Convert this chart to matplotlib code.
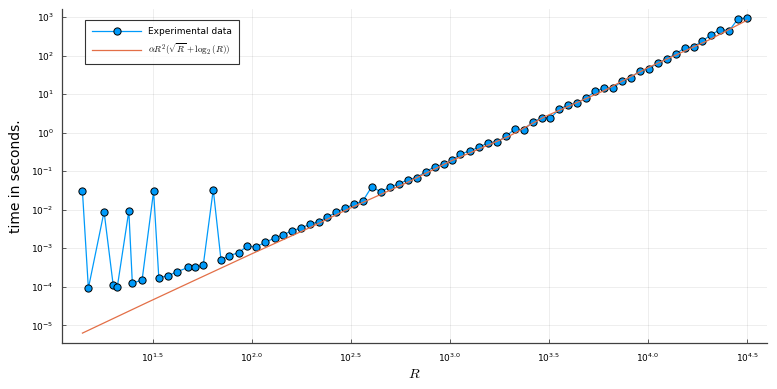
"""Runtime vs R on log-log axes, Plots.jl (GR) look."""

import matplotlib

matplotlib.use("Agg")
import matplotlib.pyplot as plt

# measured problem sizes and timings (seconds)
R_VALUES = [
    14, 15, 18, 20, 21, 24, 25, 28, 32, 34,
    38, 42, 48, 52, 57, 64, 70, 77, 86, 95,
    105, 117, 131, 144, 160, 177, 196, 218, 240, 268,
    297, 330, 364, 404, 448, 499, 554, 614, 682, 755,
    838, 930, 1027, 1132, 1268, 1407, 1562, 1734, 1925, 2127,
    2362, 2620, 2909, 3219, 3575, 3966, 4402, 4868, 5403, 6000,
    6664, 7400, 8210, 9120, 10120, 11180, 12410, 13780, 15290, 16970,
    18780, 20860, 23160, 25720, 28530, 31620,
]
TIMES = [
    3.0e-2, 9.2e-5, 8.9e-3, 1.14e-4, 1.01e-4, 9.3e-3, 1.24e-4, 1.51e-4, 3.0e-2, 1.73e-4,
    1.95e-4, 2.47e-4, 3.2e-4, 3.18e-4, 3.69e-4, 3.33e-2, 5.06e-4, 6.43e-4, 7.69e-4, 1.15e-3,
    1.08e-3, 1.43e-3, 1.85e-3, 2.22e-3, 2.87e-3, 3.31e-3, 4.2e-3, 4.91e-3, 6.38e-3, 8.61e-3,
    1.114e-2, 1.39e-2, 1.69e-2, 3.98e-2, 2.9e-2, 3.91e-2, 4.68e-2, 6.04e-2, 6.8e-2, 9.75e-2,
    0.129, 0.152, 0.193, 0.277, 0.342, 0.419, 0.552, 0.575, 0.809, 1.25,
    1.16, 1.94, 2.37, 2.42, 4.06, 5.26, 6.03, 7.85, 11.8, 14.3,
    14.5, 21.7, 26.9, 40.8, 46.0, 63.5, 82.2, 109.0, 158.0, 168.0,
    237.0, 351.0, 473.0, 447.0, 915.0, 936.0,
]

# reference curve alpha R^2 (sqrt(R) + log2(R))
FIT_R = [14, 20, 30, 50, 100, 200, 300, 600, 1000, 2000, 3000, 6000, 10000, 20000, 31620]
FIT_T = [
    6.3e-6, 1.5e-5, 4.02e-5, 1.37e-4, 7.16e-4, 3.58e-3, 9.89e-3, 4.9e-2, 0.179,
    0.82, 2.57, 12.3, 48.7, 245.0, 829.0,
]

XTICKS = [1.5, 2.0, 2.5, 3.0, 3.5, 4.0, 4.5]
YTICKS = [-5, -4, -3, -2, -1, 0, 1, 2, 3]

BLUE = "#009AFA"
ORANGE = "#E36F47"
AXIS_GREY = "#404040"


def main() -> None:
    fig = plt.figure(figsize=(7.77, 3.89), dpi=100)
    ax = fig.add_axes([0.0798, 0.117, 0.9072, 0.861])

    ax.plot(
        R_VALUES, TIMES, "o-", color=BLUE, lw=0.9, markersize=5.2,
        markeredgecolor="black", markeredgewidth=0.7, label="Experimental data",
        zorder=3,
    )
    ax.plot(
        FIT_R, FIT_T, "-", color=ORANGE, lw=0.9,
        label=r"$\alpha R^2(\sqrt{R} + \log_2(R))$", zorder=4,
    )

    ax.set_xscale("log")
    ax.set_yscale("log")
    ax.set_xlim(10 ** 1.043, 10 ** 4.6)
    ax.set_ylim(10 ** -5.47, 10 ** 3.22)

    ax.set_xticks([10 ** t for t in XTICKS])
    ax.set_xticklabels([rf"$10^{{{t:.1f}}}$" for t in XTICKS], fontsize=6.5)
    ax.set_yticks([10.0 ** t for t in YTICKS])
    ax.set_yticklabels([rf"$10^{{{t}}}$" for t in YTICKS], fontsize=6.5)
    ax.minorticks_off()

    ax.tick_params(
        axis="both", direction="in", length=3, width=0.6, color=AXIS_GREY, pad=6
    )
    for side in ("top", "right"):
        ax.spines[side].set_visible(False)
    for side in ("left", "bottom"):
        ax.spines[side].set_color(AXIS_GREY)
        ax.spines[side].set_linewidth(0.9)
    ax.grid(True, color="black", alpha=0.08, lw=0.6)

    ax.set_xlabel(r"$R$", fontsize=10, math_fontfamily="cm", labelpad=2)
    ax.set_ylabel("time in seconds.", fontsize=10, labelpad=6)

    leg = ax.legend(
        loc="upper left", bbox_to_anchor=(0.0326, 0.966), borderaxespad=0,
        fontsize=6.5, frameon=True, fancybox=False, handlelength=5.4,
        handletextpad=0.8, borderpad=0.8, labelspacing=0.6,
    )
    leg.get_frame().set_edgecolor("black")
    leg.get_frame().set_linewidth(0.8)
    for txt in leg.get_texts():
        txt.set_math_fontfamily("cm")

    fig.savefig("out.png", dpi=100)
    plt.close(fig)


if __name__ == "__main__":
    main()
